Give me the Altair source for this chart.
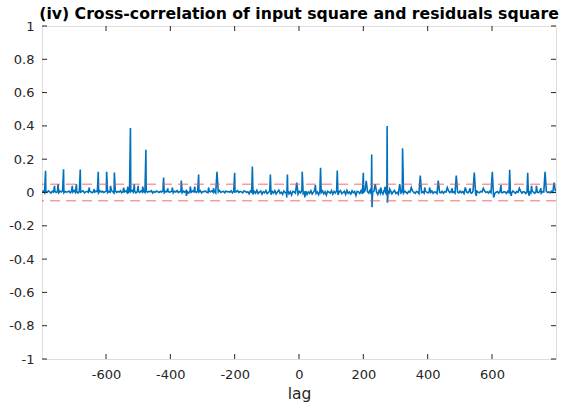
import altair as alt
import pandas as pd

# ---------------- data ----------------
# baseline noise, in thousandths, at lags -799, -795, ..., 797 (every 4 lags)
baseline_milli = [
    3, 8, -2, 6, 1, 10, 4, -3, 7, 2, 9, 0, 5, -1, 8, 3, 11, -2, 6, 2,
    4, 9, -1, 7, 3, 12, 0, 5, -3, 8, 2, 6, 10, -2, 4, 7, 1, 9, 3, -1,
    6, 2, 8, 5, -2, 10, 3, 7, 0, 4, 9, -1, 6, 2, 11, 5, -3, 8, 1, 7,
    3, 10, -2, 6, 4, 9, 1, -1, 7, 5, 12, 2, 8, -2, 4, 6, 0, 10, 3, 5,
    -1, 8, 2, 7, 4, 11, -3, 6, 1, 9, 5, 0, 7, 3, 10, -2, 6, 4, 8, 1,
    5, 9, -2, 7, 3, 12, 0, 6, 4, -1, 8, 2, 10, 5, -3, 7, 1, 9, 4, 6,
    0, 8, 3, 11, -2, 6, 5, 9, 1, -1, 7, 4, 10, 2, 6, -3, 8, 3, 12, 0,
    5, 7, -1, 9, 4, 6, 2, 10, -2, 8, 3, 5, 11, 0, 7, 4, -2, 9, 6, 1,
    4, -8, 10, 2, -12, 7, -4, 13, -6, 3, 9, -10, 5, -2, 12, -7, 1, 8, -14, 6,
    -3, 11, -9, 4, 14, -5, 2, -11, 9, 0, -6, 12, -8, 5, -15, 7, 3, -4, 10, -10,
    6, -2, 13, -7, 1, 9, -12, 4, -5, 11, -9, 2, 15, -6, 3, -13, 8, -1, 10, -8,
    5, -16, 7, 2, -4, 12, -10, 6, -3, 9, -14, 4, 11, -7, 0, 8, -11, 13, -5, 3,
    -9, 10, -2, 6, -18, 7, 4, -6, 12, -8, 1, 9, -13, 5, -3, 14, -10, 2, 8, -7,
    3, -12, 11, -4, 6, -9, 13, 0, -15, 7, -2, 10, -8, 4, 12, -6, 1, -11, 9, -3,
    5, -4, 8, 1, -6, 7, 2, -3, 9, 0, -5, 6, 3, -7, 8, -1, 4, -4, 7, 2,
    -3, 6, 0, 9, -5, 4, 2, -6, 8, 1, -2, 7, -4, 5, 3, -7, 9, -1, 6, 0,
    4, -5, 7, 2, -3, 8, -1, 5, -6, 6, 3, -2, 9, 0, -4, 7, 1, -5, 8, 2,
    -2, 6, 3, -6, 8, 0, 5, -3, 7, -1, 4, 9, -5, 2, 6, -4, 8, 1, -2, 5,
    3, -6, 7, 0, 4, -3, 9, 2, -5, 6, 1, -2, 8, -4, 5, 3, -7, 7, 0, 4,
    -3, 8, 2, -5, 6, 1, -1, 9, -4, 5, 3, -6, 7, 0, 4, -2, 8, 1, -3, 6,
]
baseline_start_lag = -799
baseline_step = 4

# large spikes
spike_lags = [-788, -732, -680, -624, -598, -574, -524, -476, -421, -366,
              -312, -255, -200, -145, -89, -36, 10, 67, 119, 200,
              226, 274, 322, 377, 433, 489, 545, 601, 655, 711, 765, 793]
spike_vals = [0.13, 0.14, 0.138, 0.125, 0.125, 0.12, 0.387, 0.257, 0.09, 0.072,
              0.108, 0.125, 0.118, 0.156, 0.108, 0.108, 0.124, 0.148, 0.132, 0.118,
              0.228, 0.40, 0.265, 0.102, 0.072, 0.102, 0.12, 0.124, 0.136, 0.118, 0.124, 0.06]

# small spikes
small_lags = [-760, -749, -705, -692, -652, -637, -586, -545, -532, -512, -500, -486,
              -408, -394, -338, -324, -281, -266, -7, 51, 209, 237,
              254, 268, 282, 313, 349, 391, 406, 461, 476, 517, 532, 573, 628, 685,
              723, 738, 752]
small_vals = [0.04, 0.05, 0.04, 0.05, 0.03, 0.02, 0.04, 0.03, 0.035, 0.05, 0.04, 0.035,
              0.025, 0.03, 0.035, 0.035, 0.03, 0.025, 0.06, 0.045, 0.07, 0.05,
              0.03, 0.035, 0.02, 0.05, 0.03, 0.03, 0.03, 0.03, 0.025, 0.03, 0.025, 0.025, 0.045, 0.025,
              0.04, 0.04, 0.025]

# dips
dip_lags = [-350, -38, 18, 227, 275, 551, 605, 660, 716]
dip_vals = [-0.02, -0.03, -0.03, -0.088, -0.062, -0.02, -0.03, -0.02, -0.02]

conf_bounds = [0.05, -0.05]
x_ticks = [-600, -400, -200, 0, 200, 400, 600]
y_ticks = [-1, -0.8, -0.6, -0.4, -0.2, 0, 0.2, 0.4, 0.6, 0.8, 1]
x_domain = [-799, 799]
y_domain = [-1, 1]

title_text = "(iv) Cross-correlation of input square and residuals square"
x_title = "lag"

# ---------------- assemble series ----------------
series = {}
for i, m in enumerate(baseline_milli):
    series[baseline_start_lag + i * baseline_step] = m / 1000.0
for lags, vals in ((spike_lags, spike_vals), (small_lags, small_vals), (dip_lags, dip_vals)):
    for l, v in zip(lags, vals):
        series[l] = v
df = pd.DataFrame(sorted(series.items()), columns=["lag", "r"])

W, H = 514, 333
AX = "#262626"
FONT = "DejaVu Sans"

xs = alt.Scale(domain=x_domain, nice=False, zero=False)
ys = alt.Scale(domain=y_domain, nice=False, zero=False)

x_axis = alt.Axis(values=x_ticks, title=x_title, tickSize=0, domain=False, grid=False,
                  labelFont=FONT, labelFontSize=13, labelColor=AX, labelPadding=9,
                  labelOverlap=False, labelExpr="'' + datum.value",
                  titleFont=FONT, titleFontSize=15.5, titleFontWeight="normal",
                  titleColor=AX, titlePadding=5)
y_axis = alt.Axis(values=y_ticks, title=None, tickSize=0, domain=False, grid=False,
                  labelFont=FONT, labelFontSize=13, labelColor=AX, labelPadding=8,
                  labelOverlap=False, labelExpr="'' + datum.value")

line = alt.Chart(df).mark_line(color="#0072BD", strokeWidth=1.6, clip=True).encode(
    x=alt.X("lag:Q", scale=xs, axis=x_axis),
    y=alt.Y("r:Q", scale=ys, axis=y_axis),
)

conf = alt.Chart(pd.DataFrame({"b": conf_bounds})).mark_rule(
    color="#ee5555", strokeWidth=1, strokeDash=[10, 6], opacity=0.85
).encode(y=alt.Y("b:Q", scale=ys, axis=y_axis))

xt = pd.DataFrame({"t": x_ticks})
yt = pd.DataFrame({"t": y_ticks})
TL = 5
tick_bottom = alt.Chart(xt).mark_rule(color=AX, strokeWidth=1).encode(
    x=alt.X("t:Q", scale=xs, axis=x_axis), y=alt.value(H), y2=alt.value(H - TL))
tick_top = alt.Chart(xt).mark_rule(color=AX, strokeWidth=1).encode(
    x=alt.X("t:Q", scale=xs, axis=x_axis), y=alt.value(0), y2=alt.value(TL))
tick_left = alt.Chart(yt).mark_rule(color=AX, strokeWidth=1).encode(
    y=alt.Y("t:Q", scale=ys, axis=y_axis), x=alt.value(0), x2=alt.value(TL))
tick_right = alt.Chart(yt).mark_rule(color=AX, strokeWidth=1).encode(
    y=alt.Y("t:Q", scale=ys, axis=y_axis), x=alt.value(W), x2=alt.value(W - TL))

chart = alt.layer(line, conf, tick_bottom, tick_top, tick_left, tick_right).properties(
    width=W, height=H,
    title=alt.TitleParams(title_text, font=FONT, fontSize=15.7, fontWeight="bold",
                          color="black", anchor="middle", offset=-3),
    autosize=alt.AutoSizeParams(type="none"),
    padding={"left": 42, "top": 26, "right": 7, "bottom": 48},
).configure_view(stroke=AX, strokeWidth=1).configure(background="white")

chart.save("out.html", embed_options={"renderer": "svg", "actions": False})
